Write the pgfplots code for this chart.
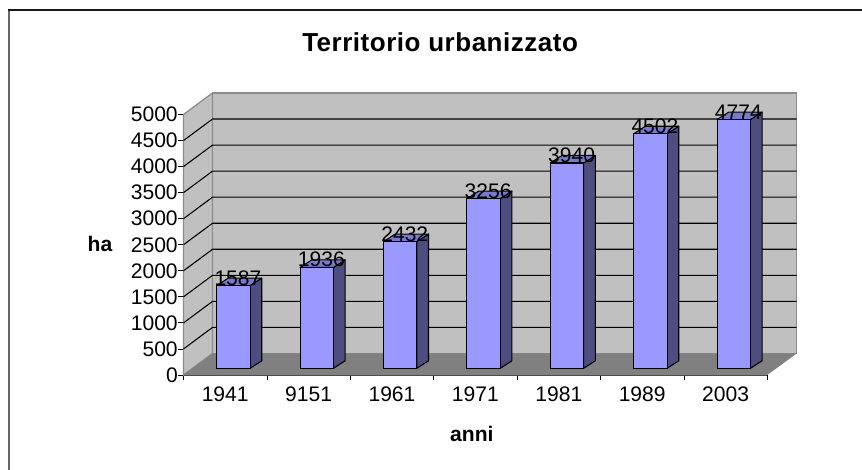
\documentclass[border=0pt]{standalone}
\usepackage{fontspec}
\setmainfont{Liberation Sans}
\usepackage{xcolor}
\usepackage{pgfplots}
\pgfplotsset{compat=1.18}
\definecolor{wall}{HTML}{C0C0C0}
\definecolor{wallline}{HTML}{8C8C8C}
\definecolor{floorgray}{HTML}{808080}
\definecolor{barfront}{HTML}{9999FF}
\definecolor{barside}{HTML}{4D4D80}
\definecolor{bartop}{HTML}{7A7ACC}
\newcommand{\lblfont}{\fontsize{15.8pt}{18pt}\selectfont}
% one bar's side and top: category position, value
\newcommand{\barsides}[2]{%
  \pgfmathsetmacro{\xl}{#1+0.398}\pgfmathsetmacro{\xr}{#1+0.798}%
  \pgfmathsetmacro{\xlb}{#1+0.538}\pgfmathsetmacro{\xrb}{#1+0.938}%
  \pgfmathsetmacro{\yt}{#2+128.6}\pgfmathsetmacro{\ytb}{#2+272.6}%
  \edef\temp{\noexpand\addplot[fill=barside,draw=black,line width=0.8pt,line join=round] coordinates {(\xr,128.6) (\xrb,272.6) (\xrb,\ytb) (\xr,\yt)} -- cycle;
    \noexpand\addplot[fill=bartop,draw=black,line width=0.8pt,line join=round] coordinates {(\xl,\yt) (\xr,\yt) (\xrb,\ytb) (\xlb,\ytb)} -- cycle;}%
  \temp}
% one gridline across side wall and back wall
\newcommand{\gridlevel}[1]{%
  \pgfmathsetmacro{\yb}{#1+413}%
  \edef\temp{\noexpand\addplot[black,line width=0.8pt] coordinates {(0,#1) (0.348,\yb) (7.352,\yb)};}%
  \temp}
\begin{document}
\begin{tikzpicture}[x=0.75pt,y=0.75pt]
\useasboundingbox (-183.5,-95) rectangle (678.5,375);
% frame of the chart area (only top and left are visible)
\draw[black!60,line width=1.5pt] (-174.5,-95) -- (-174.5,365);
\draw[black!90,line width=1.5pt] (-175.5,365) -- (678.5,365);
\begin{axis}[
    at={(0,0)}, anchor=south west,
    scale only axis,
    width=437.85pt, height=195.375pt,
    xmin=0, xmax=7, ymin=0, ymax=5000,
    clip=false,
    axis lines=left,
    axis line style={-, black!70, line width=0.9pt},
    tick style={black, line width=0.6pt},
    tick align=outside,
    major tick length=3.8pt,
    xtick={0,1,2,3,4,5,6,7},
    x tick label as interval,
    xticklabels={1941,9151,1961,1971,1981,1989,2003},
    ytick={0,500,1000,1500,2000,2500,3000,3500,4000,4500,5000},
    /pgf/number format/assume math mode=true,
    /pgf/number format/1000 sep={},
    tick label style={font=\lblfont},
    yticklabel style={xshift=3pt},
    xticklabel style={yshift=-1.5pt},
    ylabel={\textbf{ha}},
    ylabel style={font=\lblfont, rotate=-90, at={(axis description cs:-0.143,0.503)}, anchor=center},
    xlabel={\textbf{anni}},
    xlabel style={font=\lblfont, at={(axis description cs:0.494,-0.226)}, anchor=center},
    title={\textbf{\addfontfeatures{LetterSpace=2.0}Territorio urbanizzato}},
    title style={font=\fontsize{19.5pt}{22pt}\selectfont, at={(axis description cs:0.44,1.247)}, anchor=center},
]
% walls and floor
\addplot[fill=wall,draw=wallline,line width=1pt] coordinates {(0.348,413) (7.352,413) (7.352,5413) (0.348,5413)} -- cycle;
\addplot[fill=wall,draw=wallline,line width=1pt] coordinates {(0,0) (0.348,413) (0.348,5413) (0,5000)} -- cycle;
\addplot[fill=floorgray,draw=none] coordinates {(0,0) (0.348,413) (7.352,413) (7,0)} -- cycle;
\gridlevel{500}\gridlevel{1000}\gridlevel{1500}\gridlevel{2000}\gridlevel{2500}
\gridlevel{3000}\gridlevel{3500}\gridlevel{4000}\gridlevel{4500}
% side and top faces
\barsides{0}{1587}
\barsides{1}{1936}
\barsides{2}{2432}
\barsides{3}{3256}
\barsides{4}{3940}
\barsides{5}{4502}
\barsides{6}{4774}
% front faces
\addplot[ybar,bar width=0.4,yshift=5.03pt,fill=barfront,draw=black,line width=0.8pt] coordinates {
    (0.598,1587) (1.598,1936) (2.598,2432) (3.598,3256) (4.598,3940) (5.598,4502) (6.598,4774)
};
% value labels
\addplot[draw=none,nodes near coords,
    every node near coord/.append style={font=\lblfont,anchor=center,yshift=10.8pt,inner sep=0pt}] coordinates {
    (0.653,1587) (1.653,1936) (2.653,2432) (3.653,3256) (4.653,3940) (5.653,4502) (6.653,4774)
};
\end{axis}
\end{tikzpicture}
\end{document}
